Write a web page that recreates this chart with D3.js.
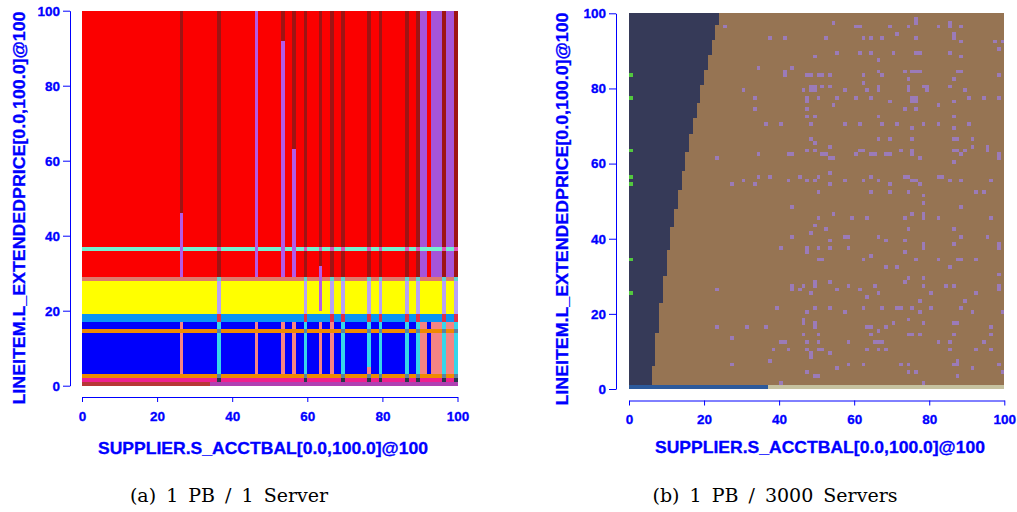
<!DOCTYPE html>
<html>
<head>
<meta charset="utf-8">
<script src="https://cdn.jsdelivr.net/npm/d3@7"></script>
<style>
  body { margin: 0; background: #fff; }
  .lbl { font-family: "Liberation Sans", Arial, sans-serif; font-weight: bold; fill: #0000ff;
         stroke: #0000ff; stroke-width: 0.3px; }
  .cap { font-family: "DejaVu Serif", serif; fill: #000; }
</style>
</head>
<body>
<svg id="chart" width="1017" height="512"></svg>
<script>
const N = 100;
const axisTicks = [0, 20, 40, 60, 80, 100];
const xTitle = "SUPPLIER.S_ACCTBAL[0.0,100.0]@100";
const yTitle = "LINEITEM.L_EXTENDEDPRICE[0.0,100.0]@100";
const captions = ["(a) 1 PB / 1 Server", "(b) 1 PB / 3000 Servers"];

// ---- (a) plan diagram, plan ids 1..21 ----
const planColorsA = ["#fb0000", "#9e1414", "#b45ae6", "#a654d8", "#74f0d0", "#e452b8", "#de7a6c",
  "#ffff00", "#b8a2f6", "#5ed4d2", "#0a94f4", "#e0304a", "#0000fc", "#f48484", "#36d6ea",
  "#f08a00", "#5e80a0", "#27374a", "#ee2090", "#b83636", "#b040b2"];
// [fromRow, toRow, plan]
const rowBandsA = [[1, 1, 19], [2, 2, 16], [3, 13, 13], [14, 14, 16], [15, 16, 13],
  [17, 18, 11], [19, 27, 8], [28, 28, 7], [29, 99, 1]];
// row 0: [fromCol, toCol, plan]
const bottomRowA = [[0, 33, 20], [34, 99, 21]];
const lineRowA = 36;
const cyanColsA = [36, 59, 69, 76, 79, 86, 89, 96, 99];
const cyanStackA = [[29, 99, 2], [28, 28, 10], [19, 27, 9], [17, 18, 12], [3, 16, 15],
  [14, 14, 17], [2, 2, 17], [1, 1, 18]];
const purpleColsA = [90, 91, 93, 94, 95, 97, 98];
const purpleStackA = [[29, 99, 4], [3, 16, 14]];
// [col, fromRow, toRow, plan]
const stripeSegA = [
  [26, 46, 99, 2], [26, 29, 45, 3], [26, 3, 16, 14],
  [46, 29, 99, 3], [46, 3, 16, 14],
  [53, 92, 99, 2], [53, 29, 91, 3], [53, 3, 16, 14],
  [56, 63, 99, 2], [56, 29, 62, 3], [56, 3, 16, 14],
  [63, 32, 99, 2], [63, 20, 31, 3], [63, 3, 16, 14],
  [66, 29, 99, 2], [66, 19, 27, 9], [66, 28, 28, 10], [66, 17, 18, 12], [66, 3, 16, 14],
  [76, 3, 4, 14]
];

// ---- (b) plan diagram, plan ids 1..6 ----
const planColorsB = ["#363a58", "#967453", "#9b7bb8", "#52c83e", "#2c5a9c", "#c6c2a0"];
const stairRowsB = [1, 6, 15, 23, 30, 37, 43, 48, 53, 58, 63, 68, 72, 76, 81, 85, 89, 93, 97];
const stairColsB = [6, 7, 8, 9, 10, 11, 12, 13, 14, 15, 16, 17, 18, 19, 20, 21, 22, 23, 24];
const bottomRowB = [[0, 36, 5], [37, 99, 6]];
const greenRowsB = [25, 34, 54, 56, 63, 77, 83];
// [col, row] of the scattered plan-3 cells
const dotsB = [
  [25,96],[54,97],[60,96],[61,96],[69,96],[71,94],[74,96],[76,98],[76,97],[82,96],[85,97],[85,96],[88,96],
  [37,93],[41,93],[52,93],[62,93],[64,93],[67,93],[76,93],[86,94],[86,93],[88,92],[97,92],[99,92],[98,90],
  [49,88],[55,89],[61,89],[64,89],[66,87],[70,89],[76,89],[77,89],[85,89],[88,88],
  [34,85],[43,85],[41,84],[41,83],[47,83],[48,83],[50,83],[51,83],[53,83],[62,83],[66,84],[67,83],[73,84],
  [75,84],[76,84],[77,84],[74,82],[86,82],[87,84],[88,84],[98,83],
  [30,79],[46,79],[48,80],[49,80],[48,79],[49,79],[51,80],[53,80],[57,79],[62,81],[63,79],[66,80],[66,79],
  [74,80],[74,79],[78,80],[79,80],[79,79],[85,80],[89,79],[98,77],
  [33,77],[47,77],[47,76],[50,77],[55,77],[60,77],[64,77],[69,76],[75,77],[76,77],[75,76],[76,76],[86,76],
  [90,77],[94,77],
  [33,74],[47,74],[54,75],[73,74],[76,74],[82,75],
  [47,72],[49,72],[66,72],[86,72],
  [36,70],[40,70],[48,70],[57,70],[61,70],[67,70],[71,70],[75,69],[78,70],[82,70],[86,69],[90,70],
  [48,66],[49,65],[66,66],[69,66],[75,66],[86,66],[87,66],[91,66],[91,64],[89,63],
  [23,61],[34,62],[42,62],[43,62],[47,63],[49,63],[51,62],[52,62],[53,64],[53,61],[54,61],[60,62],[61,63],
  [62,63],[64,62],[65,62],[68,62],[69,62],[72,63],[75,62],[75,63],[77,61],[86,63],[87,63],[86,60],[95,64],
  [95,63],[98,62],[98,61],[88,62],
  [27,54],[30,55],[33,54],[34,56],[37,56],[42,55],[45,56],[47,55],[49,55],[50,56],[53,57],[53,54],[57,55],
  [62,55],[64,56],[66,55],[69,54],[73,56],[74,56],[75,55],[76,55],[77,54],[82,56],[83,56],[85,55],[88,55],
  [96,55],
  [50,52],[64,52],[69,52],[74,52],[78,51],[78,49],[92,52],[94,52],[43,48],[88,48],
  [54,46],[50,45],[49,43],[52,42],[48,41],[59,45],[63,45],[73,45],[75,46],[78,46],[78,45],[82,45],[96,45],
  [74,42],[86,42],
  [43,40],[57,40],[58,40],[53,39],[66,40],[68,39],[73,39],[88,40],[95,40],
  [40,37],[47,37],[47,36],[50,37],[53,37],[58,37],[73,36],[78,38],[78,37],[86,38],[98,38],[98,37],
  [50,34],[51,34],[62,34],[64,35],[76,34],[82,34],[87,34],[88,34],[92,34],[68,32],[71,32],[85,32],[98,30],
  [43,27],[43,26],[23,26],[45,26],[46,27],[48,25],[49,28],[49,27],[53,28],[55,26],[58,27],[61,26],[63,24],
  [65,27],[66,25],[73,28],[74,29],[78,29],[78,27],[80,25],[84,27],[86,27],[92,25],[98,27],[98,26],
  [39,21],[47,20],[49,21],[53,21],[57,20],[62,21],[67,21],[71,21],[72,21],[75,21],[77,20],[80,21],[88,21],
  [91,20],[99,20],[89,23],[77,23],
  [23,16],[31,16],[36,16],[46,18],[46,17],[49,17],[49,16],[63,16],[64,16],[66,15],[68,16],[70,17],[74,18],
  [78,17],[86,17],[87,17],[96,16],
  [46,14],[50,14],[64,14],[65,12],[66,12],[74,14],[75,14],[77,14],[86,14],[94,12],[96,14],
  [27,13],[40,12],[41,12],[47,12],[50,12],[58,12],[67,12],[82,12],[85,12],
  [38,10],[42,10],[47,10],[50,10],[51,10],[53,9],[63,10],[66,10],[68,10],[85,10],[92,10],[96,10],
  [48,8],[48,9],[27,6],[37,7],[55,5],[58,6],[62,6],[72,6],[74,6],[86,6],[87,6],[87,7],[91,5],[98,6],
  [49,3],[50,3],[47,4],[74,4],[76,4],[87,3],[99,4],
  [40,1],[78,1]
];

// ---- build the grids ----
function emptyGrid() { return d3.range(N).map(() => new Array(N).fill(0)); }
function fillCol(grid, c, r0, r1, p) { for (let r = r0; r <= r1; r++) grid[r][c] = p; }

const gridA = emptyGrid();
rowBandsA.forEach(([r0, r1, p]) => { for (let c = 0; c < N; c++) fillCol(gridA, c, r0, r1, p); });
bottomRowA.forEach(([c0, c1, p]) => { for (let c = c0; c <= c1; c++) gridA[0][c] = p; });
cyanColsA.forEach(c => cyanStackA.forEach(([r0, r1, p]) => fillCol(gridA, c, r0, r1, p)));
purpleColsA.forEach(c => purpleStackA.forEach(([r0, r1, p]) => fillCol(gridA, c, r0, r1, p)));
stripeSegA.forEach(([c, r0, r1, p]) => fillCol(gridA, c, r0, r1, p));
for (let c = 0; c < N; c++) {
  const p = gridA[lineRowA][c];
  gridA[lineRowA][c] = p === 2 ? 6 : (p === 3 ? 3 : 5);
  if (gridA[14][c] === 14) gridA[14][c] = 16;
}

const gridB = emptyGrid();
for (let r = 1; r < N; r++) for (let c = 0; c < N; c++) gridB[r][c] = 2;
bottomRowB.forEach(([c0, c1, p]) => { for (let c = c0; c <= c1; c++) gridB[0][c] = p; });
stairRowsB.forEach((r0, i) => {
  const r1 = i + 1 < stairRowsB.length ? stairRowsB[i + 1] - 1 : N - 1;
  for (let r = r0; r <= r1; r++) for (let c = 0; c < stairColsB[i]; c++) gridB[r][c] = 1;
});
dotsB.forEach(([c, r]) => { gridB[r][c] = 3; });
greenRowsB.forEach(r => { gridB[r][0] = 4; });

// merge equal neighbours in a row into one rect
function runs(grid) {
  const out = [];
  grid.forEach((row, r) => {
    let c0 = 0;
    for (let c = 1; c <= N; c++) {
      if (c === N || row[c] !== row[c0]) { out.push({ r, c0, c1: c - 1, p: row[c0] }); c0 = c; }
    }
  });
  return out;
}

const svg = d3.select("#chart");

const layout = [
  { left: 82, right: 457.5, top: 10.7, bottom: 385.7, yAxisX: 70, xAxisY: 397,
    yTitleX: 24.5, yTitleY: 208, xTitleX: 263, xTitleY: 453.5, capX: 229 },
  { left: 629, right: 1004.3, top: 13.3, bottom: 389, yAxisX: 616, xAxisY: 400.5,
    yTitleX: 567.5, yTitleY: 209, xTitleX: 820, xTitleY: 453, capX: 775 }
];

function drawPanel(L, grid, colors, caption) {
  const x = d3.scaleBand().domain(d3.range(N)).range([L.left, L.right]);
  const y = d3.scaleBand().domain(d3.range(N)).range([L.bottom, L.top]);
  const color = d3.scaleOrdinal().domain(d3.range(1, colors.length + 1)).range(colors);
  const g = svg.append("g");

  // cells
  g.append("g")
    .attr("shape-rendering", "crispEdges")
    .selectAll("rect")
    .data(runs(grid))
    .join("rect")
    .attr("x", d => x(d.c0))
    .attr("y", d => y(d.r))
    .attr("width", d => x(d.c1) + x.bandwidth() - x(d.c0))
    .attr("height", y.bandwidth())
    .attr("fill", d => color(d.p));

  // axes
  const xl = d3.scaleLinear().domain([0, 100]).range([L.left, L.right]);
  const yl = d3.scaleLinear().domain([0, 100]).range([L.bottom, L.top]);
  const xa = g.append("g")
    .attr("transform", `translate(0, ${L.xAxisY})`)
    .call(d3.axisBottom(xl).tickValues(axisTicks).tickSize(5).tickSizeOuter(0).tickPadding(9));
  const ya = g.append("g")
    .attr("transform", `translate(${L.yAxisX}, 0)`)
    .call(d3.axisLeft(yl).tickValues(axisTicks).tickSize(7).tickSizeOuter(0).tickPadding(3));
  [xa, ya].forEach(a => {
    a.select(".domain").attr("stroke", "#0000ff");
    a.selectAll(".tick line").attr("stroke", "#0000ff");
    a.selectAll("text").attr("class", "lbl").style("font-size", "13.5px");
  });

  // titles
  g.append("text")
    .attr("class", "lbl")
    .attr("x", L.xTitleX)
    .attr("y", L.xTitleY)
    .attr("text-anchor", "middle")
    .attr("textLength", 330)
    .attr("lengthAdjust", "spacingAndGlyphs")
    .style("font-size", "16.5px")
    .text(xTitle);

  g.append("text")
    .attr("class", "lbl")
    .attr("transform", `translate(${L.yTitleX}, ${L.yTitleY}) rotate(-90)`)
    .attr("text-anchor", "middle")
    .attr("textLength", 393)
    .attr("lengthAdjust", "spacingAndGlyphs")
    .style("font-size", "16.5px")
    .text(yTitle);

  g.append("text")
    .attr("class", "cap")
    .attr("x", L.capX)
    .attr("y", 502)
    .attr("text-anchor", "middle")
    .style("font-size", "19px")
    .style("word-spacing", "4px")
    .text(caption);
}

drawPanel(layout[0], gridA, planColorsA, captions[0]);
drawPanel(layout[1], gridB, planColorsB, captions[1]);
</script>
</body>
</html>
